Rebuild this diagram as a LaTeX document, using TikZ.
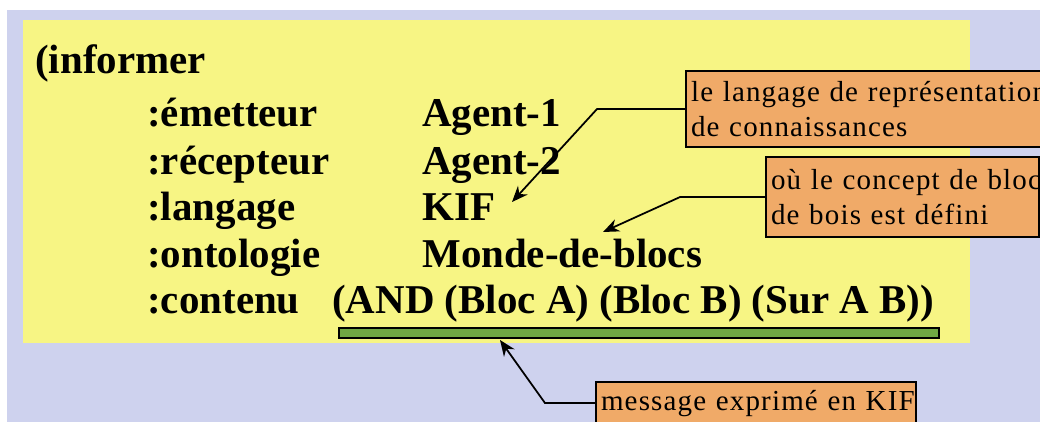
\documentclass[tikz,border=0pt]{standalone}
\usepackage{fontspec}
\setmainfont{Liberation Serif}
\newfontfamily\notefont{Liberation Serif}[LetterSpace=4]
\usetikzlibrary{arrows.meta, positioning}
\definecolor{lavender}{RGB}{206, 210, 238}
\definecolor{pad}{RGB}{247, 245, 132}
\definecolor{tag}{RGB}{240, 170, 104}
\definecolor{grass}{RGB}{112, 168, 68}

\begin{document}
\begin{tikzpicture}[x=0.02cm, y=-0.02cm,
        kw/.style={anchor=base west, inner sep=0pt, font=\fontsize{23.3}{27}\selectfont\bfseries},
        note/.style={draw=black, line width=1.2pt, fill=tag, anchor=north west, align=left, inner xsep=0.1cm, inner ysep=0pt, font=\notefont\fontsize{16.5}{19.5}\selectfont},
        pointer/.style={draw=black, line width=1pt, -{Stealth[length=0.32cm, width=0.26cm]}}
    ]
    \useasboundingbox (0,0) rectangle (1040,422);
    \fill[lavender] (7,10) rectangle (1040,422);
    \fill[pad] (23,20) rectangle (970,343);

    % the KQML message
    \node[kw] (perf) at (35,74) {(informer};
    \node[kw] (snd) at (147,127) {:émetteur};
    \node[kw] (rcv) at (147,174) {:récepteur};
    \node[kw] (lng) at (147,220) {:langage};
    \node[kw] (ont) at (147,267) {:ontologie};
    \node[kw] (cnt) at (147,313) {:contenu};
    \node[kw] (sndv) at (422,127) {Agent-1};
    \node[kw] (rcvv) at (422,174) {Agent-2};
    \node[kw] (lngv) at (422,220) {KIF};
    \node[kw] (ontv) at (422,267) {Monde-de-blocs};
    \node[kw] (cntv) at (332,313) {(AND (Bloc A) (Bloc B) (Sur A B))};
    \node[draw=black, line width=1.2pt, fill=grass, anchor=north west, inner sep=0pt, minimum width=12cm, minimum height=0.2cm] (bar) at (338,327) {};

    % explanations
    \node[note, text width=7.6cm, minimum height=1.52cm] (nlang) at (685,70) {\mbox{le langage de représentation}\\\mbox{de connaissances}};
    \node[note, text width=5.26cm, minimum height=1.6cm] (nbloc) at (765,156) {\mbox{où le concept de bloc}\\\mbox{de bois est défini}};
    \node[note, text width=6.2cm, minimum height=0.84cm] (nmsg) at (595,381) {\mbox{message exprimé en KIF}};

    \coordinate (tipLang) at (512,202);
    \coordinate (tipBloc) at (603,232);
    \coordinate (tipMsg) at (500,340);
    \draw[pointer] (nlang.west) -- ++(-88,0) -- (tipLang);
    \draw[pointer] (nbloc.west) -- ++(-85,0) -- (tipBloc);
    \draw[pointer] (nmsg.west) -- ++(-50,0) -- (tipMsg);
\end{tikzpicture}
\end{document}
